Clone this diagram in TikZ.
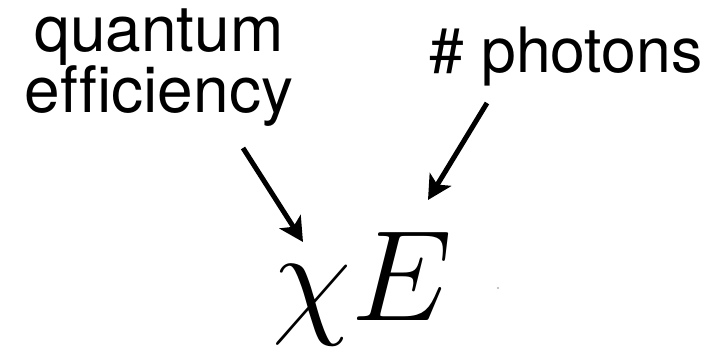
\RequirePackage{fix-cm}
\documentclass[tikz,border=0pt]{standalone}
\usepackage{fontspec}
\setmainfont[Ligatures=NoCommon]{TeX Gyre Heros}
\usetikzlibrary{arrows.meta}
\tikzset{
  lbl/.style={inner sep=0pt, font=\fontsize{64}{53}\selectfont, align=center},
  ptr/.style={line width=5pt, -{Stealth[length=24pt, width=25pt, inset=6pt]}},
}
\begin{document}
\begin{tikzpicture}[x=1pt, y=-1pt]
\useasboundingbox[fill=white] (0,0) rectangle (726,358);
\node[lbl, anchor=base] (qe) at (159,113) {quantum\\efficiency};
\node[lbl, anchor=base west, font=\fontsize{62.5}{53}\selectfont] (ph) at (429,73) {\# photons};
\node[inner sep=0pt, anchor=base west, font=\fontsize{129}{129}\selectfont] (eq) at (272,320) {$\chi E$};
\coordinate (s1) at (243,148);
\coordinate (t1) at (303,242);
\coordinate (s2) at (487,103);
\coordinate (t2) at (428,200);
\draw[ptr] (s1) -- (t1);
\draw[ptr] (s2) -- (t2);
\fill[gray!60] (498,288) circle (1.2pt);
\end{tikzpicture}
\end{document}
